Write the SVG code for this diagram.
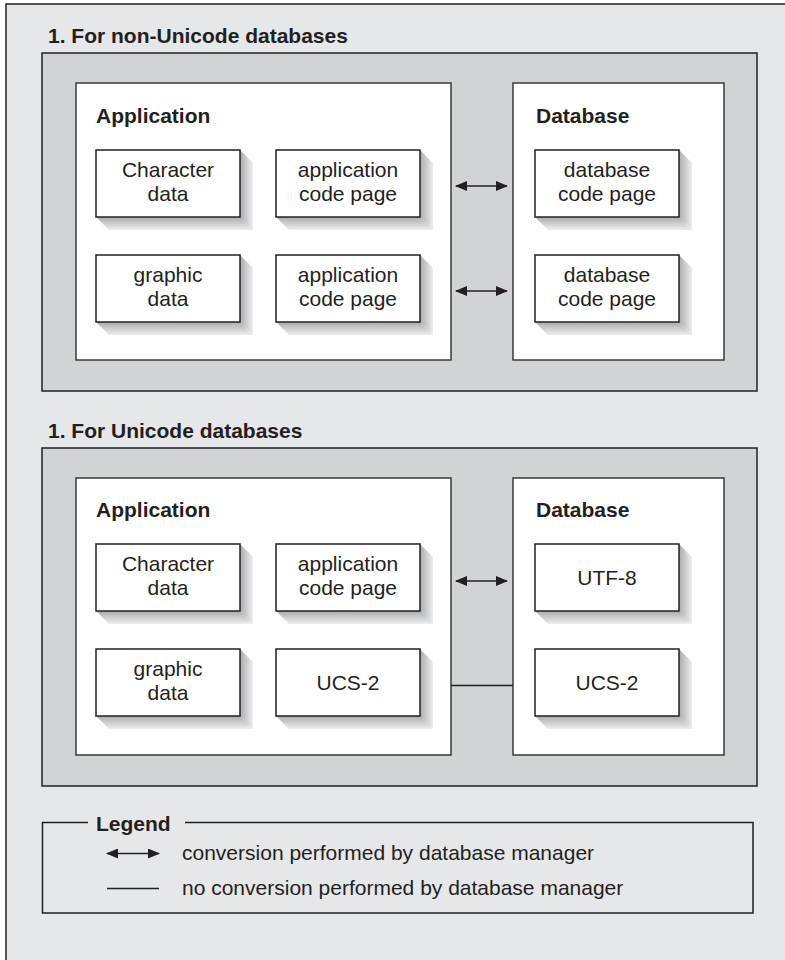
<svg xmlns="http://www.w3.org/2000/svg" width="785" height="960" viewBox="0 0 785 960">
<style>
.bg{fill:#e6e7e8;stroke:#231f20;stroke-width:1.5}
.panel{fill:#d1d3d4;stroke:#231f20;stroke-width:1.5}
.cont{fill:#ffffff;stroke:#3a3a3a;stroke-width:1.5}
.box{fill:#ffffff;stroke:#231f20;stroke-width:1.5}
.shr{fill:url(#gh)}
.shb{fill:url(#gv)}
text{font-family:"Liberation Sans",Arial,sans-serif;font-size:21px;fill:#231f20}
.b{font-weight:bold}
.c{text-anchor:middle}
.conn{stroke:#231f20;stroke-width:1.5;fill:none}
</style>
<defs>
<linearGradient id="gh" x1="0" y1="0" x2="1" y2="0"><stop offset="0" stop-color="#a9abae"/><stop offset="1" stop-color="#eeeeef"/></linearGradient>
<linearGradient id="gv" x1="0" y1="0" x2="0" y2="1"><stop offset="0" stop-color="#a9abae"/><stop offset="1" stop-color="#eeeeef"/></linearGradient>
<marker id="ah" viewBox="0 0 12 10" refX="11" refY="5" markerWidth="12" markerHeight="10" markerUnits="userSpaceOnUse" orient="auto-start-reverse"><path d="M0,0 L12,5 L0,10 Z" fill="#231f20"/></marker>
</defs>

<rect class="bg" x="6" y="4" width="790" height="970"/>

<!-- Section 1 -->
<g id="section1">
<text class="b" x="48" y="43">1. For non-Unicode databases</text>
<rect class="panel" x="42" y="53" width="715" height="338"/>
</g>
<g id="app1">
<rect class="cont" x="76" y="83" width="375" height="277"/>
<text class="b" x="96" y="123">Application</text>
</g>
<g id="db1">
<rect class="cont" x="513" y="83" width="211" height="277"/>
<text class="b" x="536" y="123">Database</text>
</g>
<g id="n1_char">
<polygon class="shr" points="240,150 253,163 253,230 240,217"/>
<polygon class="shb" points="96,217 240,217 253,230 109,230"/>
<rect class="box" x="96" y="150" width="144" height="67"/>
<text class="c" x="168" y="177">Character</text>
<text class="c" x="168" y="201">data</text>
</g>
<g id="n1_acp1">
<polygon class="shr" points="420,150 433,163 433,230 420,217"/>
<polygon class="shb" points="276,217 420,217 433,230 289,230"/>
<rect class="box" x="276" y="150" width="144" height="67"/>
<text class="c" x="348" y="177">application</text>
<text class="c" x="348" y="201">code page</text>
</g>
<g id="n1_graph">
<polygon class="shr" points="240,255 253,268 253,335 240,322"/>
<polygon class="shb" points="96,322 240,322 253,335 109,335"/>
<rect class="box" x="96" y="255" width="144" height="67"/>
<text class="c" x="168" y="282">graphic</text>
<text class="c" x="168" y="306">data</text>
</g>
<g id="n1_acp2">
<polygon class="shr" points="420,255 433,268 433,335 420,322"/>
<polygon class="shb" points="276,322 420,322 433,335 289,335"/>
<rect class="box" x="276" y="255" width="144" height="67"/>
<text class="c" x="348" y="282">application</text>
<text class="c" x="348" y="306">code page</text>
</g>
<g id="n1_dcp1">
<polygon class="shr" points="679,150 692,163 692,230 679,217"/>
<polygon class="shb" points="535,217 679,217 692,230 548,230"/>
<rect class="box" x="535" y="150" width="144" height="67"/>
<text class="c" x="607" y="177">database</text>
<text class="c" x="607" y="201">code page</text>
</g>
<g id="n1_dcp2">
<polygon class="shr" points="679,255 692,268 692,335 679,322"/>
<polygon class="shb" points="535,322 679,322 692,335 548,335"/>
<rect class="box" x="535" y="255" width="144" height="67"/>
<text class="c" x="607" y="282">database</text>
<text class="c" x="607" y="306">code page</text>
</g>

<!-- Section 2 -->
<g id="section2">
<text class="b" x="48" y="438">1. For Unicode databases</text>
<rect class="panel" x="42" y="448" width="715" height="338"/>
</g>
<g id="app2">
<rect class="cont" x="76" y="478" width="375" height="277"/>
<text class="b" x="96" y="517">Application</text>
</g>
<g id="db2">
<rect class="cont" x="513" y="478" width="211" height="277"/>
<text class="b" x="536" y="517">Database</text>
</g>
<g id="n2_char">
<polygon class="shr" points="240,544 253,557 253,624 240,611"/>
<polygon class="shb" points="96,611 240,611 253,624 109,624"/>
<rect class="box" x="96" y="544" width="144" height="67"/>
<text class="c" x="168" y="571">Character</text>
<text class="c" x="168" y="595">data</text>
</g>
<g id="n2_acp">
<polygon class="shr" points="420,544 433,557 433,624 420,611"/>
<polygon class="shb" points="276,611 420,611 433,624 289,624"/>
<rect class="box" x="276" y="544" width="144" height="67"/>
<text class="c" x="348" y="571">application</text>
<text class="c" x="348" y="595">code page</text>
</g>
<g id="n2_graph">
<polygon class="shr" points="240,649 253,662 253,729 240,716"/>
<polygon class="shb" points="96,716 240,716 253,729 109,729"/>
<rect class="box" x="96" y="649" width="144" height="67"/>
<text class="c" x="168" y="676">graphic</text>
<text class="c" x="168" y="700">data</text>
</g>
<g id="n2_ucs_app">
<polygon class="shr" points="420,649 433,662 433,729 420,716"/>
<polygon class="shb" points="276,716 420,716 433,729 289,729"/>
<rect class="box" x="276" y="649" width="144" height="67"/>
<text class="c" x="348" y="690">UCS-2</text>
</g>
<g id="n2_utf8">
<polygon class="shr" points="679,544 692,557 692,624 679,611"/>
<polygon class="shb" points="535,611 679,611 692,624 548,624"/>
<rect class="box" x="535" y="544" width="144" height="67"/>
<text class="c" x="607" y="585">UTF-8</text>
</g>
<g id="n2_ucs_db">
<polygon class="shr" points="679,649 692,662 692,729 679,716"/>
<polygon class="shb" points="535,716 679,716 692,729 548,729"/>
<rect class="box" x="535" y="649" width="144" height="67"/>
<text class="c" x="607" y="690">UCS-2</text>
</g>

<!-- Connectors -->
<g id="connectors">
<line class="conn" x1="456" y1="186" x2="507" y2="186" marker-start="url(#ah)" marker-end="url(#ah)"/>
<line class="conn" x1="456" y1="291" x2="507" y2="291" marker-start="url(#ah)" marker-end="url(#ah)"/>
<line class="conn" x1="456" y1="581" x2="507" y2="581" marker-start="url(#ah)" marker-end="url(#ah)"/>
<line class="conn" x1="451" y1="685.5" x2="513" y2="685.5"/>
</g>

<!-- Legend -->
<g id="legend">
<path class="conn" d="M88,822.5 H42.5 V913 H753 V822.5 H185"/>
<text class="b" x="96" y="831">Legend</text>
<line class="conn" x1="107" y1="853.5" x2="159" y2="853.5" marker-start="url(#ah)" marker-end="url(#ah)"/>
<text x="182" y="860">conversion performed by database manager</text>
<line class="conn" x1="107" y1="888.5" x2="159" y2="888.5"/>
<text x="182" y="895">no conversion performed by database manager</text>
</g>
</svg>
